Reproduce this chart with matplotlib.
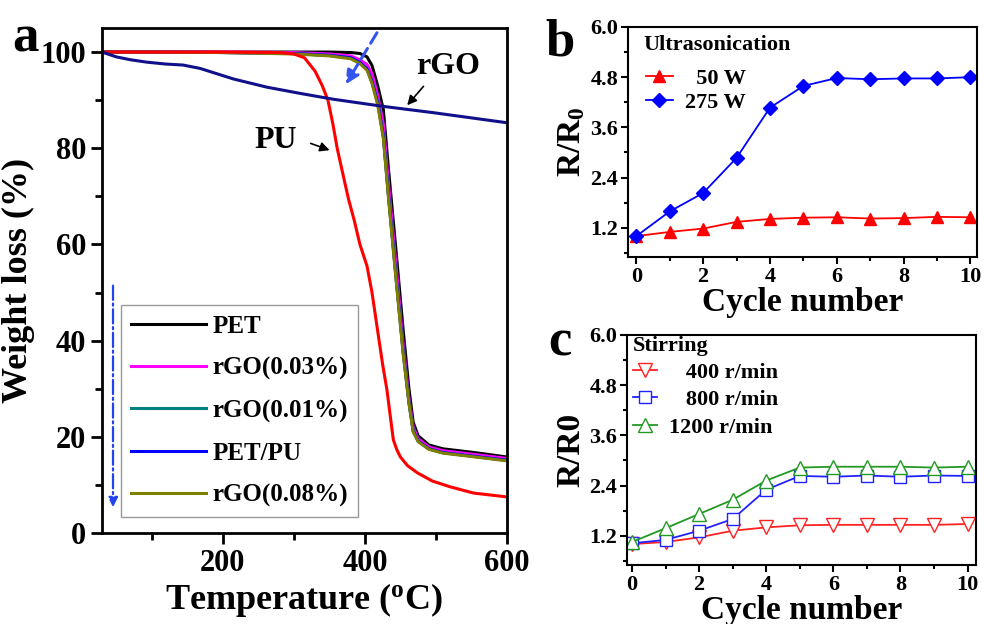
import matplotlib
matplotlib.use("Agg")
import matplotlib.pyplot as plt
from matplotlib.ticker import MultipleLocator, FormatStrFormatter

plt.rcParams['font.family'] = ['Liberation Serif', 'DejaVu Serif']
plt.rcParams['font.weight'] = 'bold'
plt.rcParams['mathtext.fontset'] = 'custom'
plt.rcParams['mathtext.rm'] = 'Liberation Serif:bold'
plt.rcParams['mathtext.bf'] = 'Liberation Serif:bold'

# ---------------- Panel a data (TGA) ----------------
T_pet = [30, 100, 200, 300, 350, 380, 393, 403, 410, 418, 426, 433, 443, 454, 462, 468, 475, 490, 510, 550, 600]
W_pet = [100, 100, 100, 100, 100, 99.9, 99.7, 99.0, 97.2, 93, 88, 76, 60, 42, 30, 23, 20.2, 18.3, 17.5, 16.8, 15.8]
W_03 = [100, 100, 100, 99.9, 99.6, 99.2, 98.4, 97.4, 95.5, 91, 85, 73, 57, 39, 28, 22, 19.6, 17.9, 17.1, 16.4, 15.5]
W_01 = [100, 100, 99.9, 99.7, 99.3, 98.8, 97.8, 96.5, 93.8, 89.5, 82.5, 70.5, 54.5, 37.5, 27.2, 21.2, 19.1, 17.5, 16.7, 16.0, 15.1]
W_petpu = [100, 100, 99.9, 99.7, 99.3, 98.8, 97.8, 96.5, 93.8, 89.5, 82.5, 70.5, 54.5, 37.5, 27.2, 21.2, 19.1, 17.5, 16.7, 16.0, 15.1]
W_08 = [100, 100, 99.9, 99.6, 99.2, 98.6, 97.6, 96.2, 93.5, 89, 82, 70, 54, 37, 27, 21, 19, 17.4, 16.6, 15.9, 15.0]

T_pu = [30, 200, 280, 300, 315, 330, 340, 348, 355, 361, 370, 377, 385, 393, 403, 410, 417, 425, 431, 436, 440, 445, 450, 460, 474, 495, 520, 553, 600]
W_pu = [100, 100, 99.9, 99.6, 98.8, 96, 93, 90, 85, 80, 74, 69.4, 65, 60, 55.5, 50, 43, 35, 29.8, 24, 19.4, 17.3, 15.8, 14, 12.5, 10.8, 9.6, 8.3, 7.5]

T_rgo = [30, 50, 70, 93, 120, 144, 168, 215, 262, 309, 355, 426, 496, 600]
W_rgo = [100, 99.0, 98.4, 97.9, 97.5, 97.3, 96.6, 94.4, 92.7, 91.4, 90.2, 88.7, 87.4, 85.3]

legend_a = ['PET', 'rGO(0.03%)', 'rGO(0.01%)', 'PET/PU', 'rGO(0.08%)']

# ---------------- Panel b data ----------------
cycles = list(range(11))
r_50w = [1.0, 1.10, 1.18, 1.34, 1.41, 1.44, 1.45, 1.42, 1.43, 1.46, 1.45]
r_275w = [1.0, 1.59, 2.03, 2.87, 4.07, 4.59, 4.78, 4.75, 4.77, 4.77, 4.80]
legend_b = ['  50 W', '275 W']

# ---------------- Panel c data ----------------
r_400 = [1.0, 1.05, 1.16, 1.32, 1.40, 1.45, 1.46, 1.46, 1.46, 1.46, 1.48]
r_800 = [1.02, 1.10, 1.32, 1.60, 2.30, 2.63, 2.61, 2.64, 2.61, 2.64, 2.63]
r_1200 = [1.05, 1.38, 1.72, 2.06, 2.52, 2.83, 2.85, 2.85, 2.85, 2.83, 2.85]
legend_c = ['   400 r/min', '   800 r/min', '1200 r/min']

W, H = 984, 624
fig = plt.figure(figsize=(W / 100, H / 100), dpi=100)


def px_axes(l, t, r, b):
    return fig.add_axes([l / W, (H - b) / H, (r - l) / W, (b - t) / H])


# ================= Panel a =================
ax = px_axes(102, 28, 507, 533)
lw = 2.2
ax.plot(T_pet, W_pet, color='black', lw=lw, label=legend_a[0])
ax.plot(T_pet, W_03, color='#ff00ff', lw=lw, label=legend_a[1])
ax.plot(T_pet, W_01, color='#008080', lw=lw, label=legend_a[2])
ax.plot(T_pet, W_petpu, color='#0000ff', lw=lw, label=legend_a[3])
ax.plot(T_pet, W_08, color='#808000', lw=lw, label=legend_a[4])
ax.plot(T_pu, W_pu, color='#ff0000', lw=lw)
ax.plot(T_rgo, W_rgo, color='#10108a', lw=lw)

ax.set_xlim(30, 600)
ax.set_ylim(0, 105)
ax.xaxis.set_major_locator(MultipleLocator(200))
ax.xaxis.set_minor_locator(MultipleLocator(100))
ax.yaxis.set_major_locator(MultipleLocator(20))
ax.yaxis.set_minor_locator(MultipleLocator(10))
ax.tick_params(which='both', direction='out', top=False, right=False, width=2)
ax.tick_params(which='major', length=8, labelsize=22)
ax.tick_params(which='minor', length=5)
for s in ax.spines.values():
    s.set_linewidth(2)
ax.set_xlabel(r'Temperature ($\mathregular{^o}$C)', fontsize=26, fontweight='bold', labelpad=2)
ax.set_ylabel('Weight loss (%)', fontsize=26, fontweight='bold', labelpad=4)

leg = ax.legend(loc='upper left', bbox_to_anchor=(0.047, 0.452), fontsize=18,
                frameon=True, fancybox=False, edgecolor='#999999', framealpha=1,
                handlelength=3.0, handletextpad=0.25, labelspacing=0.76,
                borderpad=0.4, borderaxespad=0)
leg.get_frame().set_linewidth(1.0)
for t in leg.get_texts():
    t.set_fontweight('bold')

ax.text(517, 97, 'rGO', fontsize=23, fontweight='bold', ha='center', va='center')
ax.annotate('', xy=(457, 88.5), xytext=(485, 93.3),
            arrowprops=dict(arrowstyle='-|>', color='black', lw=1.2, mutation_scale=14))
ax.text(275, 81.7, 'PU', fontsize=23, fontweight='bold', ha='center', va='center')
ax.annotate('', xy=(354, 79.4), xytext=(320, 81.2),
            arrowprops=dict(arrowstyle='-|>', color='black', lw=1.2, mutation_scale=14))
ax.annotate('', xy=(371, 92.8), xytext=(419, 104.5),
            arrowprops=dict(arrowstyle='-|>', color='#3355ee', lw=2.2, ls=(0, (4, 2)),
                            mutation_scale=20), annotation_clip=False)
ax.annotate('', xy=(45.5, 4.8), xytext=(45.5, 52),
            arrowprops=dict(arrowstyle='-|>', color='#2244ee', lw=1.6, ls='-.',
                            mutation_scale=14))
fig.text(12 / W, 1 - 38 / H, 'a', fontsize=38, fontweight='bold', ha='left', va='center')


def style_small(ax, xlim, ylim):
    ax.set_xlim(*xlim)
    ax.set_ylim(*ylim)
    ax.xaxis.set_major_locator(MultipleLocator(2))
    ax.xaxis.set_minor_locator(MultipleLocator(1))
    ax.set_yticks([1.2, 2.4, 3.6, 4.8, 6.0])
    ax.yaxis.set_minor_locator(MultipleLocator(0.6))
    ax.yaxis.set_major_formatter(FormatStrFormatter('%.1f'))
    ax.tick_params(which='both', direction='out', top=False, right=False, width=1.5)
    ax.tick_params(which='major', length=5, labelsize=16, pad=2)
    ax.tick_params(which='minor', length=3)
    for s in ax.spines.values():
        s.set_linewidth(1.5)
    ax.set_xlabel('Cycle number', fontsize=24, fontweight='bold', labelpad=0)
    for lab in ax.get_xticklabels() + ax.get_yticklabels():
        lab.set_fontweight('bold')


# ================= Panel b =================
axb = px_axes(628, 27, 977, 257)
axb.plot(cycles, r_50w, color='#ff0000', lw=1.3, marker='^', ms=8, label=legend_b[0])
axb.plot(cycles, r_275w, color='#0000ff', lw=1.3, marker='D', ms=7, label=legend_b[1])
style_small(axb, (-0.25, 10.2), (0.5, 6.0))
axb.set_ylabel(r'R/R$\mathregular{_0}$', fontsize=24, fontweight='bold', labelpad=2)
legb = axb.legend(loc='upper left', bbox_to_anchor=((646 - 628) / 349, 1 - (68 - 27) / 230),
                  frameon=False, fontsize=16, handlelength=1.2, handletextpad=0.55,
                  labelspacing=0.18, borderpad=0, borderaxespad=0)
for t in legb.get_texts():
    t.set_fontweight('bold')
fig.text(643 / W, 1 - 45 / H, 'Ultrasonication', fontsize=16, fontweight='bold',
         ha='left', va='center')
fig.text(560 / W, 1 - 42 / H, 'b', fontsize=38, fontweight='bold', ha='center', va='center')

# ================= Panel c =================
axc = px_axes(627, 335, 976, 565)
axc.plot(cycles, r_400, color='#ff2222', lw=1.3, marker='v', ms=10, mfc='white', mew=1.0, label=legend_c[0])
axc.plot(cycles, r_800, color='#2222ff', lw=1.3, marker='s', ms=8, mfc='white', mew=1.0, label=legend_c[1])
axc.plot(cycles, r_1200, color='#229922', lw=1.3, marker='^', ms=10, mfc='white', mew=1.0, label=legend_c[2])
style_small(axc, (-0.15, 10.25), (0.5, 6.0))
axc.set_ylabel('R/R0', fontsize=24, fontweight='bold', labelpad=2)
legc = axc.legend(loc='upper left', bbox_to_anchor=((633 - 627) / 349, 1 - (362 - 335) / 230),
                  frameon=False, fontsize=16, handlelength=1.1, handletextpad=0.5,
                  labelspacing=0.32, borderpad=0, borderaxespad=0)
for t in legc.get_texts():
    t.set_fontweight('bold')
fig.text(633 / W, 1 - 346 / H, 'Stirring', fontsize=16, fontweight='bold', ha='left', va='center')
fig.text(560 / W, 1 - 343 / H, 'c', fontsize=38, fontweight='bold', ha='center', va='center')

fig.savefig('out.png', dpi=100)
